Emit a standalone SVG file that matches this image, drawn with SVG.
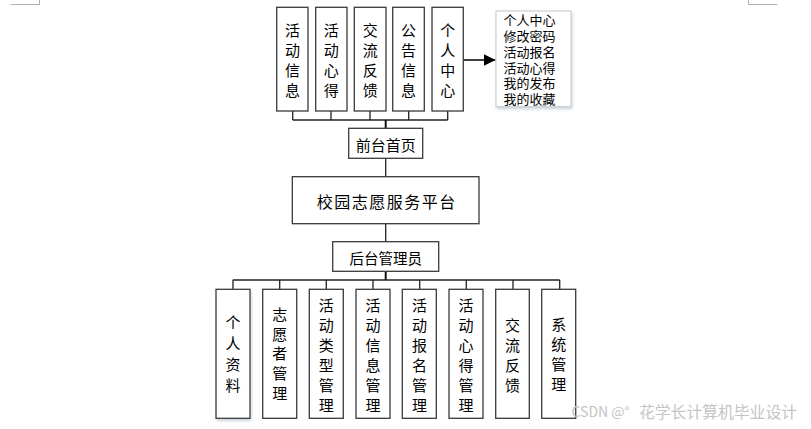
<svg xmlns="http://www.w3.org/2000/svg" width="811" height="429" viewBox="0 0 811 429">
<defs>
<style>
.box{fill:#fff;stroke:#3a3a3a;stroke-width:1.3}
.t{font-family:"Noto Sans CJK SC","Noto Sans CJK JP",sans-serif;fill:#000;text-anchor:middle;dominant-baseline:central}
.v{font-size:15px}
.ln{stroke:#222;stroke-width:1.3;fill:none}
.trunk{stroke:#111;stroke-width:2;fill:none}
.mark{stroke:#b0b0b0;stroke-width:1;fill:none}
</style>
<marker id="arr" viewBox="0 0 12 12" refX="12" refY="6" markerWidth="12" markerHeight="12" markerUnits="userSpaceOnUse" orient="auto">
<path d="M0,0 L12,6 L0,12 z" fill="#000"/>
</marker>
<filter id="sh" x="-20%" y="-20%" width="140%" height="140%">
<feDropShadow dx="1" dy="2" stdDeviation="1.5" flood-color="#9ab" flood-opacity="0.5"/>
</filter>
</defs>
<rect width="811" height="429" fill="#fff"/>
<path class="mark" d="M10.5,4.5 H39.5 V0"/>
<path class="mark" d="M748.5,0 V4.5 H777.5"/>

<g id="connectors">
<path class="ln" d="M292.7,111 V120 M331,111 V120 M370,111 V120 M408.7,111 V120 M447.7,111 V120 M292.7,120 H447.7"/>
<path class="trunk" d="M385.7,120 V128.3"/>
<path class="ln" d="M385.7,158.3 V176.7 M385.7,223.7 V241.7"/>
<path class="trunk" d="M385.7,271.3 V280"/>
<path class="ln" d="M232.7,280 H559.7 M233,280 V289.3 M279.7,280 V289.3 M326.3,280 V289.3 M373,280 V289.3 M419.7,280 V289.3 M466.3,280 V289.3 M513,280 V289.3 M559.7,280 V289.3"/>
<line x1="463.3" y1="60" x2="495.5" y2="60" stroke="#000" stroke-width="1.5" marker-end="url(#arr)"/>
</g>

<g id="top1"><rect class="box" x="276.7" y="7.3" width="31.3" height="103.7"/>
<text class="t v" x="292.4"><tspan x="292.4" y="29">活</tspan><tspan x="292.4" y="49">动</tspan><tspan x="292.4" y="69">信</tspan><tspan x="292.4" y="88.5">息</tspan></text></g>
<g id="top2"><rect class="box" x="315.7" y="7.3" width="31.3" height="103.7"/>
<text class="t v"><tspan x="331.3" y="29">活</tspan><tspan x="331.3" y="49">动</tspan><tspan x="331.3" y="69">心</tspan><tspan x="331.3" y="88.5">得</tspan></text></g>
<g id="top3"><rect class="box" x="354.3" y="7.3" width="31.7" height="103.7"/>
<text class="t v"><tspan x="370.2" y="29">交</tspan><tspan x="370.2" y="49">流</tspan><tspan x="370.2" y="69">反</tspan><tspan x="370.2" y="88.5">馈</tspan></text></g>
<g id="top4"><rect class="box" x="392.7" y="7.3" width="31.6" height="103.7"/>
<text class="t v"><tspan x="408.5" y="29">公</tspan><tspan x="408.5" y="49">告</tspan><tspan x="408.5" y="69">信</tspan><tspan x="408.5" y="88.5">息</tspan></text></g>
<g id="top5"><rect class="box" x="432" y="7.3" width="31.3" height="103.7"/>
<text class="t v"><tspan x="447.7" y="29">个</tspan><tspan x="447.7" y="49">人</tspan><tspan x="447.7" y="69">中</tspan><tspan x="447.7" y="88.5">心</tspan></text></g>

<g id="menu"><rect x="496" y="11" width="75" height="95.7" fill="#fff" stroke="#c8c8c8" stroke-width="1" filter="url(#sh)"/>
<text class="t" style="font-size:13px;text-anchor:start"><tspan x="503.5" y="19">个人中心</tspan><tspan x="503.5" y="35">修改密码</tspan><tspan x="503.5" y="51">活动报名</tspan><tspan x="503.5" y="66.7">活动心得</tspan><tspan x="503.5" y="82.3">我的发布</tspan><tspan x="503.5" y="98">我的收藏</tspan></text></g>

<g id="front"><rect class="box" x="348.7" y="128.3" width="74" height="30"/>
<text class="t" x="385.7" y="144" style="font-size:15px">前台首页</text></g>

<g id="platform"><rect class="box" x="292.3" y="176.7" width="186.7" height="47"/>
<text class="t" x="316.7" y="201" style="font-size:16px;text-anchor:start;letter-spacing:1.5px">校园志愿服务平台</text></g>

<g id="admin"><rect class="box" x="332.7" y="241.7" width="106" height="29.6"/>
<text class="t" x="385.7" y="257" style="font-size:14.5px">后台管理员</text></g>

<g id="b1"><rect class="box" x="216" y="289.3" width="34" height="129" filter="url(#sh)"/>
<text class="t v"><tspan x="233" y="321">个</tspan><tspan x="233" y="342">人</tspan><tspan x="233" y="363">资</tspan><tspan x="233" y="384">料</tspan></text></g>
<g id="b2"><rect class="box" x="262.7" y="289.3" width="34" height="129"/>
<text class="t v"><tspan x="279.7" y="313">志</tspan><tspan x="279.7" y="332.5">愿</tspan><tspan x="279.7" y="352">者</tspan><tspan x="279.7" y="372">管</tspan><tspan x="279.7" y="392">理</tspan></text></g>
<g id="b3"><rect class="box" x="309.3" y="289.3" width="34" height="129"/>
<text class="t v"><tspan x="326.3" y="303.5">活</tspan><tspan x="326.3" y="323.5">动</tspan><tspan x="326.3" y="343.5">类</tspan><tspan x="326.3" y="363.5">型</tspan><tspan x="326.3" y="383.5">管</tspan><tspan x="326.3" y="403.5">理</tspan></text></g>
<g id="b4"><rect class="box" x="356" y="289.3" width="34" height="129"/>
<text class="t v"><tspan x="373" y="303.5">活</tspan><tspan x="373" y="323.5">动</tspan><tspan x="373" y="343.5">信</tspan><tspan x="373" y="363.5">息</tspan><tspan x="373" y="383.5">管</tspan><tspan x="373" y="403.5">理</tspan></text></g>
<g id="b5"><rect class="box" x="402.3" y="289.3" width="34" height="129"/>
<text class="t v"><tspan x="419.5" y="303.5">活</tspan><tspan x="419.5" y="323.5">动</tspan><tspan x="419.5" y="343.5">报</tspan><tspan x="419.5" y="363.5">名</tspan><tspan x="419.5" y="383.5">管</tspan><tspan x="419.5" y="403.5">理</tspan></text></g>
<g id="b6"><rect class="box" x="449" y="289.3" width="34" height="129"/>
<text class="t v"><tspan x="466" y="303.5">活</tspan><tspan x="466" y="323.5">动</tspan><tspan x="466" y="343.5">心</tspan><tspan x="466" y="363.5">得</tspan><tspan x="466" y="383.5">管</tspan><tspan x="466" y="403.5">理</tspan></text></g>
<g id="b7"><rect class="box" x="495.7" y="289.3" width="33.6" height="129"/>
<text class="t v"><tspan x="512.5" y="323.5">交</tspan><tspan x="512.5" y="344">流</tspan><tspan x="512.5" y="364">反</tspan><tspan x="512.5" y="384">馈</tspan></text></g>
<g id="b8"><rect class="box" x="541.7" y="289.3" width="34" height="129"/>
<text class="t v"><tspan x="558.7" y="323">系</tspan><tspan x="558.7" y="343">统</tspan><tspan x="558.7" y="363">管</tspan><tspan x="558.7" y="383">理</tspan></text></g>

<text x="571.5" y="411" style="font-family:'Noto Sans CJK SC',sans-serif;font-size:14px;fill:#c4c4c4;dominant-baseline:central">CSDN @°<tspan x="639" style="font-size:15.8px">花学长计算机毕业设计</tspan></text>
</svg>
